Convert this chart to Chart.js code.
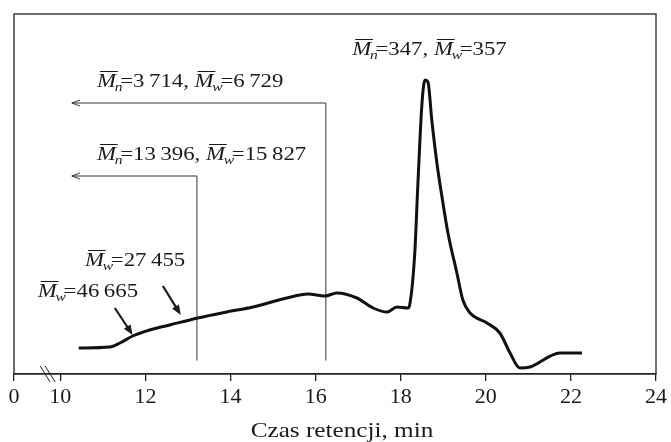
<!DOCTYPE html>
<html>
<head>
<meta charset="utf-8">
<script src="https://cdn.jsdelivr.net/npm/chart.js@4.4.1/dist/chart.umd.min.js"></script>
<style>
  html, body { margin: 0; padding: 0; background: #fff; }
  #wrap { width: 671px; height: 442px; }
</style>
</head>
<body>
<div id="wrap"><canvas id="chart"></canvas></div>
<script>
// GPC trace (signal in arbitrary units)
const times  = [10.43, 11.16, 11.40, 11.70, 12.10, 12.57, 13.23, 13.91, 14.53, 15.32, 15.82, 16.22, 16.50, 16.97,
                17.35, 17.68, 17.91, 18.17, 18.21, 18.33, 18.40, 18.50, 18.57, 18.64, 18.73, 18.85, 18.97, 19.11,
                19.32, 19.46, 19.63, 20.03, 20.33, 20.57, 20.80, 21.04, 21.74, 22.26];
const signal = [26, 27, 31, 38, 44, 49, 56, 62, 67, 76, 80, 78, 81, 76,
                66, 62, 67, 66, 69, 121, 187, 271, 294, 292, 254, 211, 177, 141,
                101, 74, 61, 51, 41, 21, 6, 7, 21, 21];

// x axis is broken: "0" sits just left of 10
const axisStart  = 8.91;
const tickValues = [axisStart, 10, 12, 14, 16, 18, 20, 22, 24];
const tickLabels = ["0", "10", "12", "14", "16", "18", "20", "22", "24"];
const axisTitle  = "Czas retencji, min";

// fraction cut lines with arrows pointing left
const cutTimes  = [16.24, 13.21];
const cutLevels = [271, 198];
const cutArrowTip = 10.27;
const cutFloor = 13.5;

// small pointer arrows
const pointerFrom = [[11.28, 66], [12.41, 88]];
const pointerTo   = [[11.70, 39], [12.83, 59]];

// molar mass labels
const labelParts = [
  [["n", "347, "], ["w", "357"]],
  [["n", "3\u2009714, "], ["w", "6\u2009729"]],
  [["n", "13\u2009396, "], ["w", "15\u2009827"]],
  [["w", "27\u2009455"]],
  [["w", "46\u2009665"]]
];
const labelAt = [[16.86, 319], [10.86, 287], [10.86, 214], [10.58, 108], [9.47, 77]];
const breakAt = 9.70;

const FONT = '"Liberation Serif", "Times New Roman", serif';
const INK = "#1a1a1a";
const STRETCH = 1.2; // the source figure's type is set wide

function drawMLabel(ctx, px, py, parts) {
    ctx.save();
    ctx.translate(px, py);
    ctx.scale(STRETCH, 1);
    let cx = 0;
    ctx.fillStyle = INK;
    ctx.strokeStyle = INK;
    ctx.lineWidth = 1;
    ctx.textBaseline = "alphabetic";
    ctx.textAlign = "left";
    parts.forEach(([sub, val]) => {
        ctx.font = "italic 19px " + FONT;
        const mw = ctx.measureText("M").width;
        ctx.fillText("M", cx, 0);
        ctx.beginPath();
        ctx.moveTo(cx + 2.5, -15.5);
        ctx.lineTo(cx + mw + 1.5, -15.5);
        ctx.stroke();
        cx += mw - 1;
        ctx.font = "italic 13px " + FONT;
        ctx.fillText(sub, cx, 4);
        cx += ctx.measureText(sub).width - 2;
        ctx.font = "19px " + FONT;
        ctx.fillText("=", cx, 0);
        cx += ctx.measureText("=").width;
        ctx.fillText(val, cx, 0);
        cx += ctx.measureText(val).width;
    });
    ctx.restore();
}

const overlay = {
    id: "overlay",
    afterDatasetsDraw(chart) {
        const { ctx, chartArea: a, scales: { x, y } } = chart;
        ctx.save();

        // frame round the plot
        ctx.strokeStyle = "#222";
        ctx.lineWidth = 1.3;
        ctx.strokeRect(a.left, a.top, a.right - a.left, a.bottom - a.top);

        // axis break marks
        const bx = x.getPixelForValue(breakAt);
        ctx.lineWidth = 1;
        [-2.5, 2.5].forEach(d => {
            ctx.beginPath();
            ctx.moveTo(bx + d - 5, a.bottom - 8);
            ctx.lineTo(bx + d + 5, a.bottom + 8);
            ctx.stroke();
        });

        // open arrow heads on the cut lines
        ctx.strokeStyle = "#333";
        ctx.lineWidth = 1;
        cutLevels.forEach(level => {
            const tx = x.getPixelForValue(cutArrowTip);
            const ty = y.getPixelForValue(level);
            ctx.beginPath();
            ctx.moveTo(tx + 8, ty - 3);
            ctx.lineTo(tx, ty);
            ctx.lineTo(tx + 8, ty + 3);
            ctx.stroke();
        });

        // pointer arrows
        ctx.strokeStyle = INK;
        ctx.fillStyle = INK;
        pointerFrom.forEach((from, i) => {
            const x0 = x.getPixelForValue(from[0]), y0 = y.getPixelForValue(from[1]);
            const x1 = x.getPixelForValue(pointerTo[i][0]), y1 = y.getPixelForValue(pointerTo[i][1]);
            const ang = Math.atan2(y1 - y0, x1 - x0);
            ctx.lineWidth = 2.2;
            ctx.beginPath();
            ctx.moveTo(x0, y0);
            ctx.lineTo(x1 - 6 * Math.cos(ang), y1 - 6 * Math.sin(ang));
            ctx.stroke();
            ctx.beginPath();
            ctx.moveTo(x1, y1);
            ctx.lineTo(x1 - 10 * Math.cos(ang) + 4 * Math.sin(ang), y1 - 10 * Math.sin(ang) - 4 * Math.cos(ang));
            ctx.lineTo(x1 - 10 * Math.cos(ang) - 4 * Math.sin(ang), y1 - 10 * Math.sin(ang) + 4 * Math.cos(ang));
            ctx.closePath();
            ctx.fill();
        });

        // labels
        labelParts.forEach((parts, i) => {
            drawMLabel(ctx, x.getPixelForValue(labelAt[i][0]), y.getPixelForValue(labelAt[i][1]), parts);
        });

        // axis title, set wide like the source
        ctx.translate((a.left + a.right) / 2 + 7, chart.height - 5);
        ctx.scale(STRETCH, 1);
        ctx.font = "21px " + FONT;
        ctx.fillStyle = INK;
        ctx.textAlign = "center";
        ctx.textBaseline = "alphabetic";
        ctx.fillText(axisTitle, 0, 0);

        ctx.restore();
    }
};

const trace = times.map((t, i) => ({ x: t, y: signal[i] }));

const cutSets = cutTimes.map((t, i) => ({
    data: [{ x: t, y: cutFloor }, { x: t, y: cutLevels[i] }, { x: cutArrowTip, y: cutLevels[i] }],
    showLine: true,
    borderColor: "#333",
    borderWidth: 1,
    pointRadius: 0,
    tension: 0,
    fill: false
}));

new Chart(document.getElementById("chart"), {
    type: "scatter",
    data: {
        datasets: [
            {
                data: trace,
                showLine: true,
                borderColor: "#111",
                borderWidth: 3,
                pointRadius: 0,
                cubicInterpolationMode: "monotone",
                fill: false
            },
            ...cutSets
        ]
    },
    options: {
        responsive: true,
        maintainAspectRatio: false,
        animation: false,
        events: [],
        layout: {
            padding: { left: 14, right: 15, top: 14, bottom: 0 }
        },
        plugins: {
            legend: { display: false },
            tooltip: { enabled: false }
        },
        scales: {
            x: {
                type: "linear",
                min: axisStart,
                max: 24,
                afterBuildTicks: scale => {
                    scale.ticks = tickValues.map(v => ({ value: v }));
                },
                afterFit: scale => {
                    scale.height = 68;
                },
                ticks: {
                    autoSkip: false,
                    maxRotation: 0,
                    color: INK,
                    padding: 3,
                    font: { family: FONT, size: 22 },
                    callback: (value) => tickLabels[tickValues.indexOf(value)]
                },
                grid: {
                    drawOnChartArea: false,
                    drawTicks: true,
                    tickLength: 7,
                    color: "#222",
                    lineWidth: 1.3
                },
                border: { display: true, color: "#222", width: 1.3 },
                title: { display: false }
            },
            y: {
                display: false,
                min: 0,
                max: 360
            }
        }
    },
    plugins: [overlay]
});
</script>
</body>
</html>
